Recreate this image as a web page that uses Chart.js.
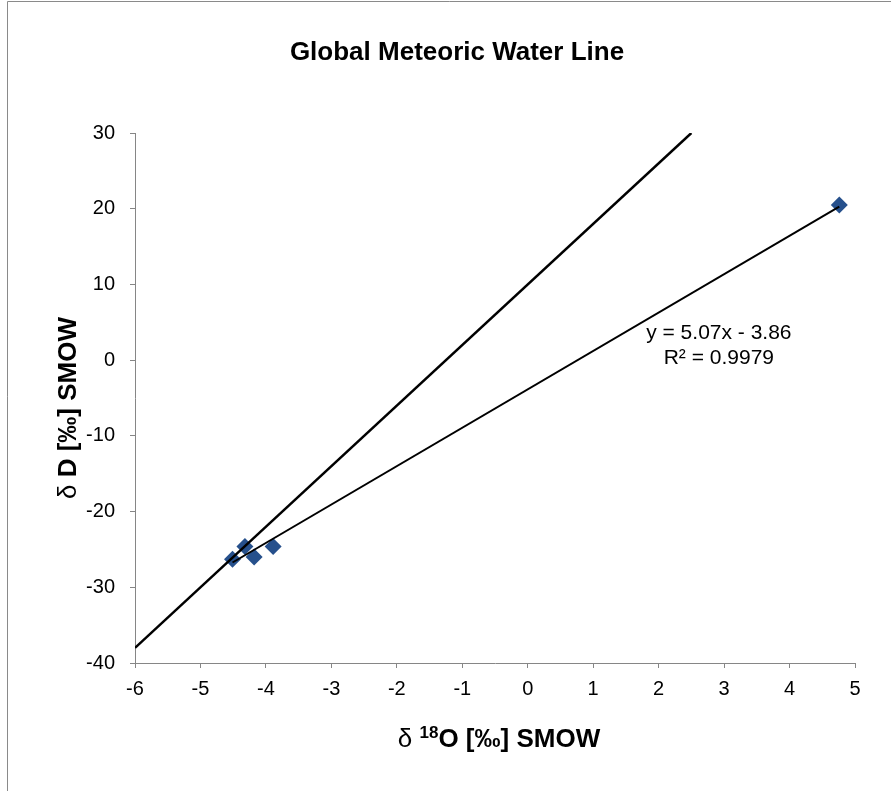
<!DOCTYPE html>
<html>
<head>
<meta charset="utf-8">
<script src="https://cdn.jsdelivr.net/npm/chart.js@4/dist/chart.umd.min.js"></script>
<style>
  html, body { margin: 0; padding: 0; background: #fff; }
  canvas { display: block; }
</style>
</head>
<body>
<canvas id="gmwl" width="891" height="791"></canvas>
<script>
// Sample isotope measurements (δ18O, δD in ‰ vs SMOW)
const sampleD18O = [-4.51, -4.32, -4.18, -3.89, 4.76];
const sampleDD   = [-26.3, -24.6, -26.0, -24.6, 20.5];

// Global Meteoric Water Line end points (δD = 8·δ18O + 10)
const gmwlD18O = [-6, 2.5];
const gmwlDD   = [-38, 30];

// Linear fit of the samples
const trendSlope = 5.07;
const trendIntercept = -3.86;
const trendR2 = 0.9979;

// Axis ranges
const xRange = { min: -6, max: 5, step: 1 };
const yRange = { min: -40, max: 30, step: 10 };

const chartTitle = 'Global Meteoric Water Line';

const xMin = Math.min(...sampleD18O);
const xMax = Math.max(...sampleD18O);
const trendPoints = [xMin, xMax].map(x => ({ x, y: trendSlope * x + trendIntercept }));

const AXIS_GREY = '#868686';
const FONT = '"Liberation Sans", Arial, Helvetica, sans-serif';
Chart.defaults.font.family = FONT;
Chart.defaults.color = '#000';

// Draws a line of mixed-style text runs centred on (cx, cy)
function drawRuns(c, runs, cx, cy) {
  let total = 0;
  runs.forEach(r => { c.font = r.font; r.w = c.measureText(r.text).width; total += r.w; });
  let x = cx - total / 2;
  c.textAlign = 'left';
  c.textBaseline = 'alphabetic';
  runs.forEach(r => {
    c.font = r.font;
    c.fillText(r.text, x, cy + (r.dy || 0));
    x += r.w;
  });
}

// White page with a grey frame on the top and left edges
const framePlugin = {
  id: 'frame',
  beforeDraw(chart) {
    const c = chart.ctx;
    c.save();
    c.fillStyle = '#fff';
    c.fillRect(0, 0, chart.width, chart.height);
    c.strokeStyle = '#8a8a8a';
    c.lineWidth = 1;
    c.beginPath();
    c.moveTo(7.5, chart.height + 5);
    c.lineTo(7.5, 1.5);
    c.lineTo(chart.width + 5, 1.5);
    c.stroke();
    c.restore();
  }
};

// Chart title and axis titles (with the raised isotope mass number)
const titlesPlugin = {
  id: 'titles',
  afterDraw(chart) {
    const c = chart.ctx;
    const area = chart.chartArea;
    c.save();
    c.fillStyle = '#000';
    c.font = 'bold 26px ' + FONT;
    c.textAlign = 'center';
    c.textBaseline = 'middle';
    c.fillText(chartTitle, 457, 53);

    const bold = 'bold 26px ' + FONT;
    const plain = '26px ' + FONT;
    const sup = 'bold 17px ' + FONT;
    drawRuns(c, [
      { text: 'δ ', font: plain },
      { text: '18', font: sup, dy: -9 },
      { text: 'O [‰] SMOW', font: bold }
    ], (area.left + area.right) / 2 + 4, 747);

    c.translate(76, (area.top + area.bottom) / 2 + 10);
    c.rotate(-Math.PI / 2);
    drawRuns(c, [
      { text: 'δ ', font: plain },
      { text: 'D [‰] SMOW', font: bold }
    ], 0, 0);
    c.restore();
  }
};

// Regression equation label
const equationPlugin = {
  id: 'equation',
  afterDatasetsDraw(chart) {
    const { ctx: c, scales: { x, y } } = chart;
    const px = x.getPixelForValue(2.92);
    const py = y.getPixelForValue(3.6);
    c.save();
    c.font = '21px ' + FONT;
    c.fillStyle = '#000';
    c.textAlign = 'center';
    c.textBaseline = 'middle';
    const sign = trendIntercept < 0 ? '-' : '+';
    c.fillText(`y = ${trendSlope.toFixed(2)}x ${sign} ${Math.abs(trendIntercept).toFixed(2)}`, px, py);
    c.fillText(`R² = ${trendR2.toFixed(4)}`, px, py + 25);
    c.restore();
  }
};

new Chart(document.getElementById('gmwl'), {
  type: 'scatter',
  data: {
    datasets: [
      {
        label: 'GMWL',
        data: gmwlD18O.map((x, i) => ({ x, y: gmwlDD[i] })),
        showLine: true,
        borderColor: '#000',
        borderWidth: 2.5,
        pointRadius: 0,
        fill: false,
        order: 1
      },
      {
        label: 'Linear fit',
        data: trendPoints,
        showLine: true,
        borderColor: '#000',
        borderWidth: 2,
        pointRadius: 0,
        fill: false,
        order: 1
      },
      {
        label: 'Samples',
        data: sampleD18O.map((x, i) => ({ x, y: sampleDD[i] })),
        pointStyle: 'rectRot',
        pointRadius: 8.5,
        backgroundColor: '#26508c',
        borderColor: '#26508c',
        borderWidth: 0,
        order: 2
      }
    ]
  },
  options: {
    responsive: false,
    animation: false,
    layout: { padding: { left: 8, right: 36, top: 133, bottom: 0 } },
    plugins: {
      legend: { display: false },
      tooltip: { enabled: false },
      title: { display: false }
    },
    scales: {
      x: {
        type: 'linear',
        min: xRange.min,
        max: xRange.max,
        ticks: { stepSize: xRange.step, font: { size: 20 }, padding: 9, color: '#000' },
        grid: { drawOnChartArea: false, tickLength: 5, color: AXIS_GREY },
        border: { color: AXIS_GREY, width: 1 },
        afterFit(scale) { scale.height = 128; }
      },
      y: {
        type: 'linear',
        min: yRange.min,
        max: yRange.max,
        ticks: { stepSize: yRange.step, font: { size: 20 }, padding: 15, color: '#000' },
        grid: { drawOnChartArea: false, tickLength: 5, color: AXIS_GREY },
        border: { color: AXIS_GREY, width: 1 },
        afterFit(scale) { scale.width = 127; }
      }
    }
  },
  plugins: [framePlugin, titlesPlugin, equationPlugin]
});
</script>
</body>
</html>
